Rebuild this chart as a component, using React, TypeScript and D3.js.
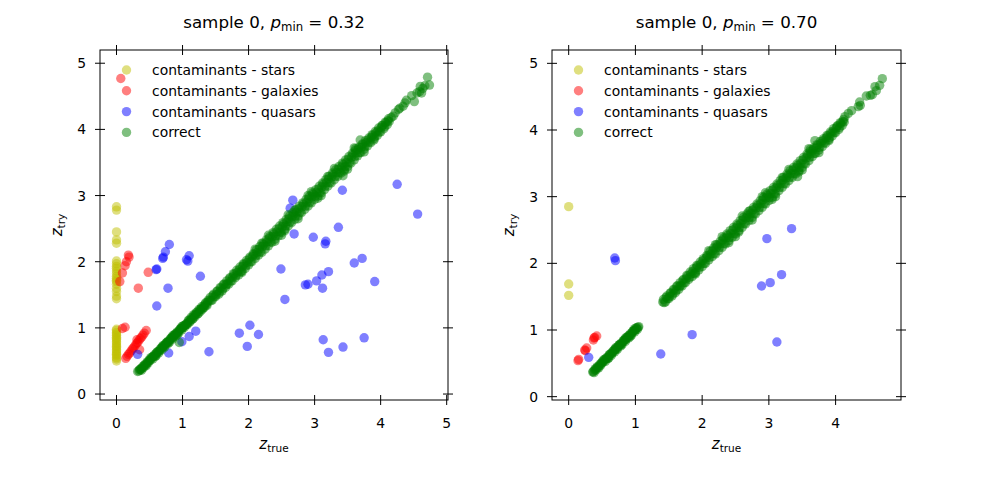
import React from 'react';
import * as d3 from 'd3';

type Pt = [number, number];

// legend entries, drawn in this order (later groups sit on top)
const groupNames = ['contaminants - stars', 'contaminants - galaxies', 'contaminants - quasars', 'correct'];
const groupColors = ['#bfbf00', '#ff0000', '#0000ff', '#008000'];
const tickValues = [0, 1, 2, 3, 4, 5];

// ---- sample 0, p_min = 0.32 ----
const starsLeft: Pt[] = [
  [0, 0.50], [0, 0.53], [0, 0.55], [0, 0.58], [0, 0.60], [0, 0.62], [0, 0.65], [0, 0.67], [0, 0.70],
  [0, 0.72], [0, 0.74], [0, 0.77], [0, 0.79], [0, 0.82], [0, 0.84], [0, 0.86], [0, 0.89], [0, 0.91],
  [0, 0.93], [0, 0.96], [0, 0.98], [0, 1.44], [0, 1.48], [0, 1.55], [0, 1.60], [0, 1.66], [0, 1.70],
  [0, 1.72], [0, 1.75], [0, 1.78], [0, 1.82], [0, 1.86], [0, 1.90], [0, 1.93], [0, 1.97], [0, 2.01],
  [0, 2.28], [0, 2.33], [0, 2.45], [0, 2.78], [0, 2.83],
];
const galaxiesLeft: Pt[] = [
  [0.065, 4.77], [0.18, 2.10], [0.19, 2.07], [0.15, 2.00], [0.13, 1.94], [0.09, 1.83], [0.05, 1.70],
  [0.48, 1.84], [0.33, 1.60], [0.13, 1.01], [0.09, 0.99], [0.35, 0.67], [0.31, 0.82],
  [0.14, 0.54], [0.16, 0.57], [0.18, 0.60], [0.20, 0.62], [0.22, 0.65], [0.24, 0.68], [0.26, 0.70],
  [0.28, 0.73], [0.30, 0.76], [0.32, 0.78], [0.34, 0.81], [0.36, 0.84], [0.38, 0.86], [0.40, 0.89],
  [0.42, 0.92], [0.45, 0.96],
];
const quasarsLeft: Pt[] = [
  [4.25, 3.17], [4.56, 2.72], [3.42, 3.08], [2.67, 2.93], [2.63, 2.81], [2.69, 2.42], [3.36, 2.52],
  [2.98, 2.37], [3.17, 2.31], [3.16, 2.27], [3.72, 2.05], [3.60, 1.98], [2.49, 1.89], [3.21, 1.85],
  [3.11, 1.80], [3.03, 1.71], [2.86, 1.65], [2.90, 1.66], [3.12, 1.60], [3.91, 1.70], [2.55, 1.43],
  [3.13, 0.82], [3.21, 0.63], [3.43, 0.71], [3.75, 0.85], [2.02, 1.04], [1.86, 0.92], [2.15, 0.90],
  [1.98, 0.72], [1.40, 0.64], [1.20, 0.95], [1.10, 0.87], [0.99, 0.79], [0.79, 0.62], [0.32, 0.60],
  [1.27, 1.78], [1.10, 2.09], [1.06, 2.03], [1.08, 2.01], [0.80, 2.26], [0.74, 2.15], [0.71, 2.07],
  [0.70, 2.05], [0.61, 1.89], [0.60, 1.88], [0.78, 1.60], [0.61, 1.33],
];

// ---- sample 0, p_min = 0.70 ----
const starsRight: Pt[] = [[0, 2.85], [0, 1.69], [0, 1.52]];
const galaxiesRight: Pt[] = [
  [0.14, 0.54], [0.15, 0.56], [0.24, 0.70], [0.25, 0.69], [0.27, 0.73], [0.37, 0.85], [0.38, 0.88],
  [0.39, 0.89], [0.42, 0.91],
];
const quasarsRight: Pt[] = [
  [0.30, 0.59], [0.69, 2.08], [0.70, 2.04], [1.38, 0.64], [1.85, 0.93], [2.97, 2.37], [3.34, 2.52],
  [2.89, 1.66], [3.02, 1.71], [3.19, 1.83], [3.12, 0.82],
];

// correct redshifts, z_true < 1.05 (both samples)
const correctLow: Pt[] = [
  [0.36, 0.37], [0.37, 0.38], [0.38, 0.36], [0.39, 0.40], [0.40, 0.42], [0.41, 0.40], [0.42, 0.43],
  [0.43, 0.45], [0.44, 0.44], [0.45, 0.43], [0.46, 0.47], [0.47, 0.49], [0.48, 0.47], [0.49, 0.50],
  [0.50, 0.52], [0.51, 0.51], [0.52, 0.55], [0.53, 0.54], [0.54, 0.56], [0.55, 0.53], [0.56, 0.57],
  [0.57, 0.59], [0.58, 0.58], [0.59, 0.57], [0.60, 0.58], [0.60, 0.61], [0.61, 0.63], [0.62, 0.64],
  [0.63, 0.64], [0.64, 0.62], [0.65, 0.65], [0.66, 0.68], [0.67, 0.68], [0.68, 0.70], [0.69, 0.67],
  [0.70, 0.71], [0.70, 0.73], [0.71, 0.73], [0.72, 0.72], [0.73, 0.71], [0.74, 0.75], [0.75, 0.77],
  [0.76, 0.78], [0.77, 0.78], [0.78, 0.76], [0.78, 0.80], [0.79, 0.79], [0.80, 0.78], [0.81, 0.82],
  [0.82, 0.84], [0.83, 0.85], [0.84, 0.85], [0.85, 0.88], [0.85, 0.83], [0.86, 0.86], [0.87, 0.89],
  [0.88, 0.89], [0.89, 0.91], [0.90, 0.88], [0.91, 0.92], [0.92, 0.90], [0.92, 0.94], [0.93, 0.93],
  [0.94, 0.92], [0.95, 0.96], [0.96, 0.98], [0.97, 0.99], [0.98, 0.99], [0.99, 1.02], [0.99, 0.97],
  [1.00, 1.00], [1.01, 1.03], [1.02, 1.03], [1.03, 1.01], [1.04, 1.04], [1.05, 1.05],
];
// 1.05 < z_true < 1.40, only above the lower threshold
const correctMid: Pt[] = [
  [0.32, 0.34], [0.34, 0.35], [0.35, 0.37], [0.95, 0.78],
  [1.06, 1.07], [1.07, 1.05], [1.08, 1.07], [1.09, 1.11], [1.10, 1.12], [1.11, 1.09], [1.12, 1.11],
  [1.13, 1.16], [1.14, 1.15], [1.15, 1.13], [1.16, 1.14], [1.17, 1.20], [1.18, 1.19], [1.19, 1.17],
  [1.20, 1.20], [1.21, 1.23], [1.22, 1.24], [1.23, 1.21], [1.24, 1.22], [1.25, 1.28], [1.26, 1.27],
  [1.27, 1.25], [1.28, 1.29], [1.29, 1.32], [1.30, 1.28], [1.31, 1.30], [1.32, 1.33], [1.33, 1.31],
  [1.34, 1.36], [1.35, 1.38], [1.36, 1.35], [1.37, 1.34], [1.38, 1.39], [1.39, 1.42],
];
// z_true > 1.40 (both samples)
const correctHigh: Pt[] = [
  [1.41, 1.42], [1.42, 1.46], [1.43, 1.41], [1.45, 1.42], [1.46, 1.49], [1.47, 1.51], [1.48, 1.47],
  [1.50, 1.47], [1.51, 1.50], [1.52, 1.55], [1.53, 1.56], [1.55, 1.51], [1.56, 1.54], [1.57, 1.61],
  [1.58, 1.60], [1.60, 1.56], [1.61, 1.59], [1.62, 1.66], [1.63, 1.66], [1.65, 1.61], [1.66, 1.65],
  [1.67, 1.71], [1.68, 1.67], [1.70, 1.66], [1.71, 1.74], [1.72, 1.76], [1.73, 1.71], [1.75, 1.71],
  [1.76, 1.77], [1.77, 1.82], [1.78, 1.81], [1.80, 1.76], [1.81, 1.79], [1.82, 1.87], [1.83, 1.84],
  [1.85, 1.80], [1.86, 1.88], [1.87, 1.92], [1.88, 1.85], [1.90, 1.84], [1.90, 1.86], [1.91, 1.93],
  [1.92, 1.97], [1.93, 1.96], [1.95, 1.90], [1.96, 1.94], [1.97, 2.02], [1.98, 1.99], [2.00, 1.95],
  [2.01, 2.04], [2.02, 2.07], [2.03, 2.00], [2.05, 2.00], [2.06, 2.08], [2.07, 2.12], [2.08, 2.11],
  [2.10, 2.05], [2.10, 2.19], [2.11, 2.09], [2.12, 2.18], [2.13, 2.14], [2.15, 2.10], [2.16, 2.19],
  [2.17, 2.23], [2.18, 2.15], [2.20, 2.14], [2.20, 2.28], [2.21, 2.23], [2.22, 2.28], [2.23, 2.26],
  [2.25, 2.19], [2.26, 2.24], [2.27, 2.33], [2.28, 2.30], [2.30, 2.24], [2.30, 2.40], [2.31, 2.35],
  [2.32, 2.38], [2.33, 2.30], [2.35, 2.29], [2.36, 2.38], [2.37, 2.44], [2.38, 2.42], [2.40, 2.34],
  [2.40, 2.31], [2.41, 2.39], [2.42, 2.49], [2.43, 2.45], [2.45, 2.39], [2.46, 2.50], [2.47, 2.54],
  [2.48, 2.45], [2.50, 2.44], [2.50, 2.40], [2.51, 2.53], [2.52, 2.59], [2.53, 2.57], [2.55, 2.47],
  [2.55, 2.49], [2.56, 2.54], [2.57, 2.64], [2.58, 2.60], [2.60, 2.54], [2.60, 2.71], [2.61, 2.65],
  [2.62, 2.69], [2.63, 2.60], [2.65, 2.59], [2.66, 2.68], [2.67, 2.74], [2.68, 2.72], [2.70, 2.64],
  [2.70, 2.78], [2.71, 2.69], [2.72, 2.79], [2.73, 2.75], [2.75, 2.69], [2.75, 2.65], [2.76, 2.80],
  [2.77, 2.84], [2.78, 2.75], [2.80, 2.74], [2.81, 2.83], [2.82, 2.89], [2.83, 2.87], [2.85, 2.79],
  [2.86, 2.84], [2.87, 2.94], [2.88, 2.90], [2.90, 2.84], [2.90, 3.00], [2.91, 2.95], [2.92, 2.99],
  [2.93, 2.90], [2.95, 2.89], [2.95, 3.06], [2.96, 2.98], [2.97, 3.04], [2.98, 3.02], [3.00, 2.94],
  [3.01, 2.99], [3.02, 3.09], [3.03, 3.05], [3.05, 2.96], [3.05, 2.99], [3.06, 3.10], [3.07, 3.14],
  [3.08, 3.05], [3.10, 3.04], [3.10, 3.00], [3.11, 3.13], [3.12, 3.19], [3.13, 3.17], [3.15, 3.09],
  [3.16, 3.14], [3.17, 3.24], [3.18, 3.20], [3.20, 3.14], [3.20, 3.29], [3.21, 3.25], [3.22, 3.29],
  [3.23, 3.20], [3.25, 3.19], [3.26, 3.28], [3.27, 3.34], [3.28, 3.32], [3.30, 3.24], [3.30, 3.41],
  [3.31, 3.29], [3.32, 3.39], [3.33, 3.35], [3.35, 3.29], [3.36, 3.40], [3.37, 3.44], [3.38, 3.35],
  [3.40, 3.34], [3.41, 3.43], [3.42, 3.49], [3.43, 3.30], [3.43, 3.47], [3.45, 3.37], [3.45, 3.39],
  [3.46, 3.44], [3.47, 3.54], [3.48, 3.50], [3.50, 3.44], [3.50, 3.40], [3.51, 3.55], [3.52, 3.59],
  [3.53, 3.50], [3.55, 3.49], [3.56, 3.58], [3.57, 3.64], [3.58, 3.62], [3.60, 3.54], [3.60, 3.72],
  [3.61, 3.59], [3.62, 3.68], [3.62, 3.71], [3.63, 3.65], [3.65, 3.60], [3.66, 3.70], [3.67, 3.73],
  [3.68, 3.65], [3.69, 3.84], [3.70, 3.65], [3.71, 3.73], [3.72, 3.78], [3.73, 3.77], [3.75, 3.70],
  [3.75, 3.66], [3.76, 3.74], [3.77, 3.83], [3.78, 3.80], [3.80, 3.75], [3.81, 3.84], [3.82, 3.87],
  [3.83, 3.81], [3.85, 3.80], [3.86, 3.88], [3.87, 3.92], [3.88, 3.91], [3.90, 3.84], [3.90, 3.86],
  [3.91, 3.89], [3.92, 3.97], [3.93, 3.95], [3.95, 3.91], [3.96, 3.98], [3.97, 4.02], [3.98, 3.96],
  [4.00, 3.96], [4.01, 4.03], [4.02, 4.06], [4.03, 4.06], [4.05, 4.01], [4.06, 4.04], [4.07, 4.11],
  [4.08, 4.10], [4.10, 4.07], [4.11, 4.13], [4.12, 4.16], [4.13, 4.12],
];
const correctTopLeft: Pt[] = [
  [4.16, 4.18], [4.19, 4.20], [4.22, 4.25], [4.27, 4.30], [4.29, 4.32], [4.34, 4.35], [4.37, 4.40],
  [4.39, 4.44], [4.47, 4.51], [4.51, 4.42], [4.55, 4.55], [4.59, 4.57], [4.60, 4.65], [4.62, 4.55],
  [4.64, 4.62], [4.67, 4.66], [4.71, 4.79], [4.74, 4.67],
];
const correctTopRight: Pt[] = [
  [4.14, 4.20], [4.19, 4.25], [4.24, 4.29], [4.34, 4.35], [4.37, 4.37], [4.36, 4.42], [4.46, 4.51],
  [4.52, 4.52], [4.55, 4.53], [4.61, 4.59], [4.59, 4.65], [4.66, 4.67], [4.70, 4.77],
];

const FONT = '"DejaVu Sans", sans-serif';
const R = 4.7;

interface PanelProps {
  left: number;
  right: number;
  xDomain: [number, number];
  yDomain: [number, number];
  pmin: string;
  groups: Pt[][];
}

function Panel({ left, right, xDomain, yDomain, pmin, groups }: PanelProps) {
  const top = 50;
  const bottom = 400;
  const x = d3.scaleLinear().domain(xDomain).range([left, right]);
  const y = d3.scaleLinear().domain(yDomain).range([bottom, top]);
  const xt = tickValues.filter(t => t >= xDomain[0] && t <= xDomain[1]);
  const yt = tickValues.filter(t => t >= yDomain[0] && t <= yDomain[1]);
  const cx = (left + right) / 2;
  const cy = (top + bottom) / 2;

  return (
    <g>
      {/* scatter groups */}
      {groups.map((pts, gi) => (
        <g key={gi} fill={groupColors[gi]} fillOpacity={0.5}>
          {pts.map((d, i) => (
            <circle key={i} cx={x(d[0])} cy={y(d[1])} r={R} />
          ))}
        </g>
      ))}

      {/* frame */}
      <rect x={left} y={top} width={right - left} height={bottom - top} fill="none" stroke="#000" strokeWidth={1} />

      {/* ticks on all four sides, crossing the spine */}
      <g stroke="#000" strokeWidth={1}>
        {xt.map(t => (
          <g key={'x' + t}>
            <line x1={x(t)} x2={x(t)} y1={bottom - 5} y2={bottom + 5} />
            <line x1={x(t)} x2={x(t)} y1={top - 5} y2={top + 5} />
          </g>
        ))}
        {yt.map(t => (
          <g key={'y' + t}>
            <line x1={left - 5} x2={left + 5} y1={y(t)} y2={y(t)} />
            <line x1={right - 5} x2={right + 5} y1={y(t)} y2={y(t)} />
          </g>
        ))}
      </g>
      <g fontFamily={FONT} fontSize={13.9} fill="#000">
        {xt.map(t => (
          <text key={'xl' + t} x={x(t)} y={427.5} textAnchor="middle">{t}</text>
        ))}
        {yt.map(t => (
          <text key={'yl' + t} x={left - 14} y={y(t) + 5} textAnchor="end">{t}</text>
        ))}
      </g>

      {/* axis labels */}
      <text x={cx} y={449} textAnchor="middle" fontFamily={FONT} fontSize={15}>
        <tspan fontStyle="italic">z</tspan>
        <tspan fontSize={10.5} dy={3}>true</tspan>
      </text>
      <text transform={`translate(${left - 38},${cy}) rotate(-90)`} textAnchor="middle" fontFamily={FONT} fontSize={15}>
        <tspan fontStyle="italic">z</tspan>
        <tspan fontSize={10.5} dy={3}>try</tspan>
      </text>

      {/* title */}
      <text x={cx} y={28} textAnchor="middle" fontFamily={FONT} fontSize={16.7}>
        <tspan>sample 0, </tspan>
        <tspan fontStyle="italic">p</tspan>
        <tspan fontSize={11.7} dy={3}>min</tspan>
        <tspan dy={-3}> = {pmin}</tspan>
      </text>

      {/* legend */}
      <g fontFamily={FONT} fontSize={13.9}>
        {groupNames.map((name, i) => (
          <g key={name}>
            <circle cx={left + 26.5} cy={70 + i * 20.8} r={R} fill={groupColors[i]} fillOpacity={0.5} />
            <text x={left + 52} y={70 + i * 20.8 + 5}>{name}</text>
          </g>
        ))}
      </g>
    </g>
  );
}

export default function App() {
  return (
    <svg width={1000} height={500} style={{ position: 'absolute', left: 0, top: 0, background: '#fff' }}>
      <rect width={1000} height={500} fill="#fff" />
      <Panel
        left={100}
        right={448}
        xDomain={[-0.25, 5.02]}
        yDomain={[-0.09, 5.2]}
        pmin="0.32"
        groups={[starsLeft, galaxiesLeft, quasarsLeft, [...correctMid, ...correctLow, ...correctHigh, ...correctTopLeft]]}
      />
      <Panel
        left={552}
        right={901}
        xDomain={[-0.25, 4.98]}
        yDomain={[-0.05, 5.2]}
        pmin="0.70"
        groups={[starsRight, galaxiesRight, quasarsRight, [...correctLow, ...correctHigh, ...correctTopRight]]}
      />
    </svg>
  );
}
